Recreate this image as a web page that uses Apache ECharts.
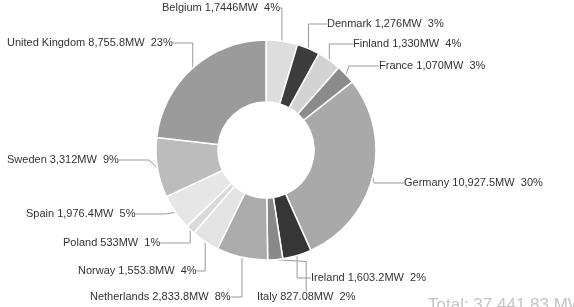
<!DOCTYPE html>
<html>
<head>
<meta charset="utf-8">
<script src="https://cdn.jsdelivr.net/npm/echarts@6/dist/echarts.min.js"></script>
<style>
  html, body { margin: 0; padding: 0; background: #fff; }
  #chart { width: 574px; height: 307px; }
</style>
</head>
<body>
<div id="chart"></div>
<script>
// installed capacity by country
const countries = ["Belgium", "Denmark", "Finland", "France", "Germany", "Ireland", "Italy",
  "Netherlands", "Norway", "Poland", "Spain", "Sweden", "United Kingdom"];
const capacityMW = [1744.6, 1276, 1330, 1070, 10927.5, 1603.2, 827.08,
  2833.8, 1553.8, 533, 1976.4, 3312, 8755.8];
const capacityText = ["1,7446", "1,276", "1,330", "1,070", "10,927.5", "1,603.2", "827.08",
  "2,833.8", "1,553.8", "533", "1,976.4", "3,312", "8,755.8"];
const sharePct = [4, 3, 4, 3, 30, 2, 2, 8, 4, 1, 5, 9, 23];
const totalText = "Total: 37,441.83 MW";

const sliceColors = ["#dddddd", "#3c3c3c", "#d3d3d3", "#8b8b8b", "#a9a9a9", "#363636", "#898989",
  "#ababab", "#e3e3e3", "#d9d9d9", "#e6e6e6", "#bcbcbc", "#9b9b9b"];

// label anchor (left, middle) for each country
const labelPos = [[162, 8], [327, 24], [353, 44], [379, 66], [404, 183], [311, 278], [257, 297],
  [90, 297], [78, 271], [63, 243], [26, 214], [7, 160], [7, 43]];

const chart = echarts.init(document.getElementById("chart"));

chart.setOption({
  animation: false,
  title: {
    text: totalText,
    left: 423,
    top: 292,
    textStyle: { color: "#c4c4c4", fontSize: 17, fontWeight: "normal", fontFamily: "Liberation Sans" }
  },
  series: [
    {
      type: "pie",
      center: [266, 150],
      radius: [48, 110],
      startAngle: 90,
      clockwise: true,
      data: countries.map((c, i) => ({
        name: c,
        value: capacityMW[i],
        itemStyle: { color: sliceColors[i] }
      })),
      itemStyle: { borderColor: "#fff", borderWidth: 1.5 },
      label: {
        show: true,
        color: "#333",
        fontSize: 11,
        fontFamily: "Liberation Sans",
        overflow: "none",
        width: 200,
        formatter: (p) => p.name + " " + capacityText[p.dataIndex] + "MW  " + sharePct[p.dataIndex] + "%"
      },
      labelLine: { show: true, lineStyle: { color: "#999", width: 1 } },
      labelLayout: (params) => ({
        x: labelPos[params.dataIndex][0],
        y: labelPos[params.dataIndex][1],
        align: "left",
        verticalAlign: "middle",
        width: 200,
        moveOverlap: null
      })
    }
  ]
});
</script>
</body>
</html>
